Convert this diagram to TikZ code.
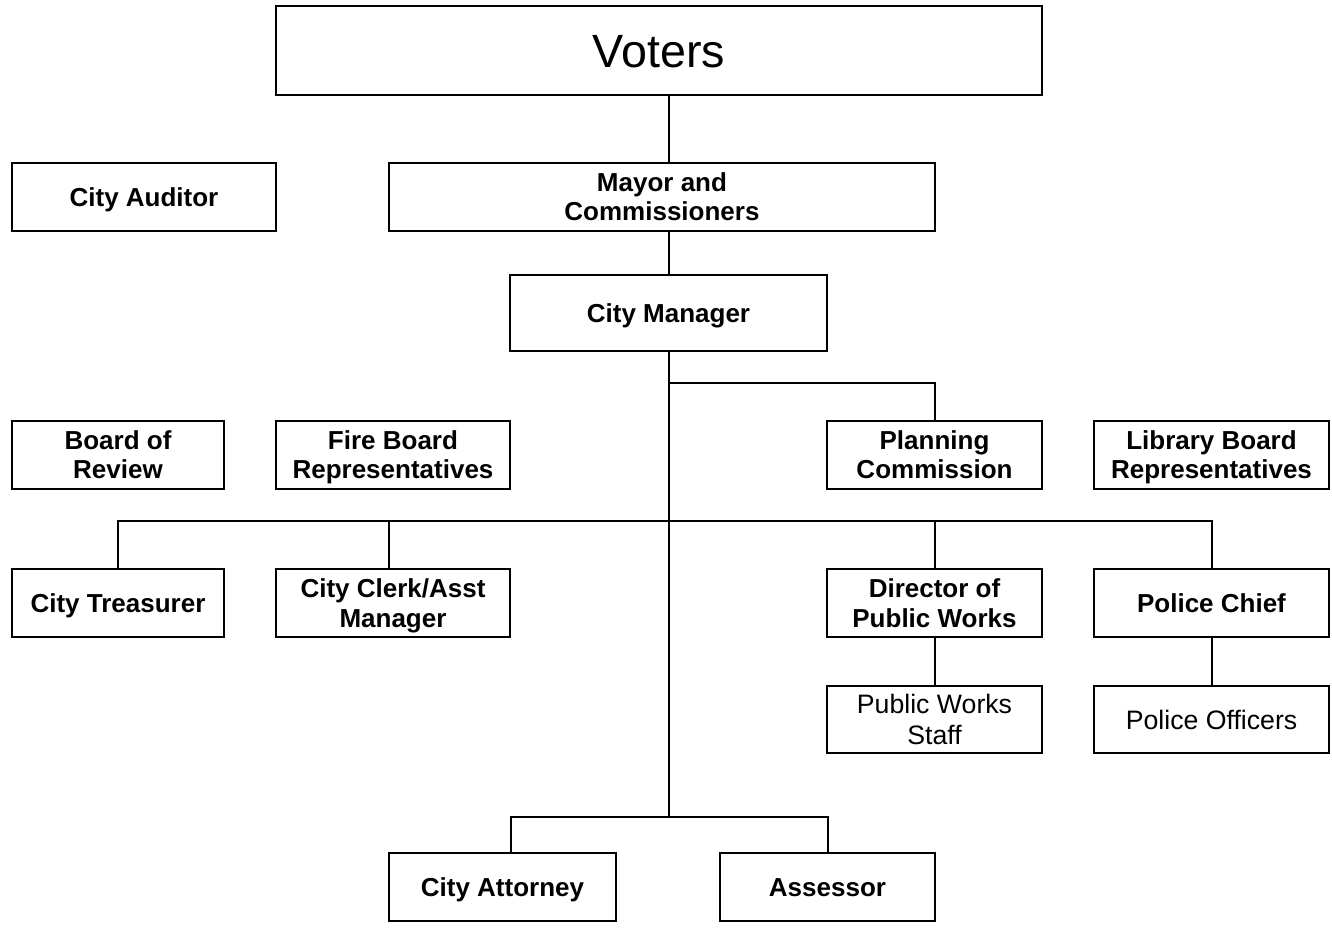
\documentclass[tikz,border=0pt]{standalone}
\usepackage{fontspec}
\setmainfont{Liberation Sans}
\usetikzlibrary{positioning}

\begin{document}
\begin{tikzpicture}[
  x=0.75pt,y=-0.75pt,
  office/.style={draw,line width=1.5pt,rectangle,align=center,inner sep=0pt,
    minimum height=51pt,text height=14pt,text depth=0pt,
    font=\bfseries\fontsize{19.5}{22}\selectfont},
  twoline/.style={text height=36pt,text depth=0pt},
  staff/.style={office,text height=14.3pt,font=\fontsize{20}{23}\selectfont},
  link/.style={draw,line width=1.5pt},
]
  \useasboundingbox (0,0) rectangle (1332,930);

  % Top layer
  \node[office,minimum width=574.5pt,minimum height=66.75pt,text height=25pt,
    font=\fontsize{35}{40}\selectfont] (voters) at (659,50.5) {Voters};
  \node[office,minimum width=198pt] (auditor) at (144,197) {City Auditor};
  \node[office,twoline,minimum width=409.5pt] (mayor) at (662,197) {Mayor and\\Commissioners};
  \node[office,minimum width=237.75pt,minimum height=57pt] (mgr) at (668.5,313) {City Manager};

  % Boards
  \node[office,twoline,minimum width=159pt] (review) at (118,455) {Board of\\Review};
  \node[office,twoline,minimum width=175.5pt] (fire) at (393,455) {Fire Board\\Representatives};
  \node[office,twoline,minimum width=161.25pt] (plan) at (934.5,455) {Planning\\Commission};
  \node[office,twoline,minimum width=176.25pt] (library) at (1211.5,455) {Library Board\\Representatives};

  % Departments
  \node[office,minimum width=159pt] (treas) at (118,603) {City Treasurer};
  \node[office,twoline,minimum width=175.5pt] (clerk) at (393,603) {City Clerk/Asst\\Manager};
  \node[office,twoline,minimum width=161.25pt] (dpw) at (934.5,603) {Director of\\Public Works};
  \node[office,minimum width=176.25pt] (chief) at (1211.5,603) {Police Chief};

  % Staff
  \node[staff,text height=37.3pt,minimum width=161.25pt,minimum height=50.25pt] (pwstaff) at (934.5,719.5) {Public Works\\Staff};
  \node[staff,minimum width=176.25pt,minimum height=50.25pt] (officers) at (1211.5,719.5) {Police Officers};

  % Bottom layer
  \node[office,minimum width=170.25pt] (attorney) at (502.5,887) {City Attorney};
  \node[office,minimum width=161.25pt] (assessor) at (827.5,887) {Assessor};

  % Branch points
  \coordinate (split) at (668.5,383);
  \coordinate (bus) at (668.5,521);
  \coordinate (hub) at (668.5,817);

  % Edges: chain of command
  \path[link] (mgr.north |- voters.south) -- (mgr.north |- mayor.north);
  \path[link] (mgr.north |- mayor.south) -- (mgr.north);
  \path[link] (mgr.south) -- (hub);
  \path[link] (split) -| (plan.north);

  % Edges: departments
  \path[link] (treas.north) |- (bus) -| (chief.north);
  \path[link] ([xshift=-3pt]clerk.north) -- ([xshift=-3pt]clerk.north |- bus);
  \path[link] (dpw.north) -- (dpw.north |- bus);
  \path[link] (dpw) -- (pwstaff);
  \path[link] (chief) -- (officers);

  % Edges: bottom
  \path[link] ([xshift=6pt]attorney.north) |- (hub) -| (assessor.north);
\end{tikzpicture}
\end{document}
